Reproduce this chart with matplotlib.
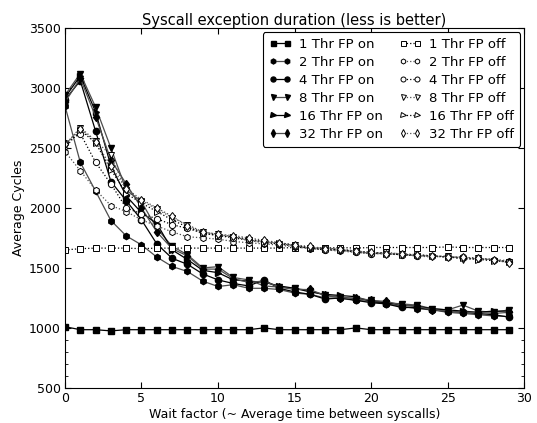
import matplotlib
matplotlib.use("Agg")
import matplotlib.pyplot as plt

x = list(range(30))

on1 = [1010, 985, 985, 975, 985, 985, 985, 985, 985, 985, 985, 985, 985, 1000, 985,
       985, 985, 985, 985, 1000, 985, 985, 985, 985, 985, 985, 985, 985, 985, 985]
on2 = [2850, 2380, 2140, 1895, 1767, 1692, 1590, 1512, 1470, 1390, 1345, 1360, 1330, 1330, 1320,
       1290, 1280, 1250, 1245, 1230, 1220, 1200, 1180, 1160, 1150, 1130, 1120, 1110, 1100, 1095]
on4 = [2900, 3060, 2640, 2220, 2060, 1900, 1700, 1580, 1530, 1450, 1400, 1370, 1350, 1400, 1330,
       1300, 1280, 1240, 1250, 1230, 1210, 1200, 1170, 1170, 1150, 1140, 1130, 1120, 1110, 1090]
on8 = [2940, 3120, 2840, 2500, 2150, 2050, 1830, 1680, 1610, 1500, 1510, 1420, 1400, 1350, 1340,
       1330, 1310, 1270, 1260, 1240, 1230, 1210, 1200, 1190, 1160, 1150, 1190, 1140, 1130, 1150]
on16 = [2920, 3100, 2800, 2350, 2100, 1960, 1870, 1650, 1570, 1480, 1460, 1400, 1390, 1380, 1350,
        1330, 1300, 1280, 1270, 1260, 1220, 1210, 1190, 1180, 1160, 1150, 1140, 1130, 1140, 1140]
on32 = [2880, 3080, 2760, 2400, 2200, 2000, 1800, 1660, 1600, 1490, 1490, 1410, 1380, 1390, 1340,
        1320, 1320, 1270, 1250, 1250, 1230, 1220, 1190, 1180, 1150, 1140, 1130, 1130, 1120, 1130]

off1 = [1650, 1660, 1665, 1665, 1665, 1660, 1665, 1665, 1665, 1665, 1665, 1665, 1665, 1665, 1665,
        1670, 1670, 1665, 1670, 1665, 1670, 1670, 1670, 1670, 1670, 1675, 1670, 1670, 1670, 1670]
off2 = [2470, 2310, 2150, 2020, 1970, 1900, 1850, 1800, 1760, 1750, 1740, 1720, 1710, 1700, 1690,
        1675, 1660, 1650, 1640, 1630, 1620, 1615, 1610, 1605, 1600, 1595, 1585, 1575, 1570, 1560]
off4 = [2540, 2620, 2380, 2200, 2000, 1950, 1910, 1860, 1830, 1790, 1770, 1750, 1730, 1710, 1700,
        1680, 1665, 1650, 1650, 1630, 1620, 1620, 1610, 1600, 1600, 1590, 1590, 1580, 1570, 1550]
off8 = [2520, 2670, 2560, 2440, 2140, 2060, 1990, 1920, 1860, 1800, 1780, 1760, 1730, 1720, 1700,
        1690, 1660, 1670, 1650, 1640, 1620, 1630, 1615, 1600, 1590, 1600, 1570, 1580, 1560, 1550]
off16 = [2500, 2650, 2540, 2320, 2120, 2040, 1970, 1900, 1840, 1790, 1770, 1760, 1740, 1720, 1710,
         1690, 1670, 1660, 1650, 1640, 1630, 1620, 1610, 1610, 1600, 1590, 1580, 1570, 1560, 1550]
off32 = [2530, 2660, 2550, 2350, 2160, 2070, 2000, 1930, 1850, 1800, 1780, 1770, 1750, 1730, 1710,
         1690, 1680, 1660, 1660, 1640, 1630, 1620, 1620, 1610, 1600, 1590, 1590, 1580, 1570, 1540]

labels_on = ["1 Thr FP on", "2 Thr FP on", "4 Thr FP on", "8 Thr FP on", "16 Thr FP on", "32 Thr FP on"]
labels_off = ["1 Thr FP off", "2 Thr FP off", "4 Thr FP off", "8 Thr FP off", "16 Thr FP off", "32 Thr FP off"]
series_on = [on1, on2, on4, on8, on16, on32]
series_off = [off1, off2, off4, off8, off16, off32]
markers = ["s", "h", "o", "v", ">", "d"]
colors = ["black", "0.3", "black", "0.3", "black", "0.3"]

fig = plt.figure(figsize=(5.37, 4.23), dpi=100)
ax = fig.add_axes([0.121, 0.083, 0.855, 0.851])

for ys, lab, m, c in zip(series_on, labels_on, markers, colors):
    ax.plot(x, ys, linestyle="-", color=c, marker=m, markersize=4.5,
            markerfacecolor="black", markeredgecolor="black", linewidth=0.9, label=lab)
for ys, lab, m, c in zip(series_off, labels_off, markers, colors):
    ax.plot(x, ys, linestyle=":", color=c, marker=m, markersize=4.5,
            markerfacecolor="white", markeredgecolor="black", markeredgewidth=0.7,
            linewidth=0.9, label=lab)

ax.set_xlim(0, 30)
ax.set_ylim(500, 3500)
ax.set_xticks(range(0, 31, 5))
ax.set_yticks(range(500, 3501, 500))
ax.set_yticks([600, 700, 800, 900], minor=True)
ax.tick_params(which="both", direction="in", top=True, right=True, labelsize=9, pad=3)
ax.tick_params(which="major", length=4)
ax.tick_params(which="minor", length=2)

ax.set_title("Syscall exception duration (less is better)", fontsize=10.5, pad=2)
ax.set_xlabel("Wait factor (~ Average time between syscalls)", fontsize=9, labelpad=2)
ax.set_ylabel("Average Cycles", fontsize=9, labelpad=3)

leg = ax.legend(ncol=2, loc="upper right", fontsize=9.5, numpoints=2, markerscale=0.8,
                handlelength=1.7, columnspacing=1.2, labelspacing=0.38, handletextpad=0.6,
                fancybox=True, framealpha=1, edgecolor="black", borderpad=0.45,
                borderaxespad=0.3)
leg.get_frame().set_linewidth(0.8)

fig.savefig("out.png", dpi=100)
